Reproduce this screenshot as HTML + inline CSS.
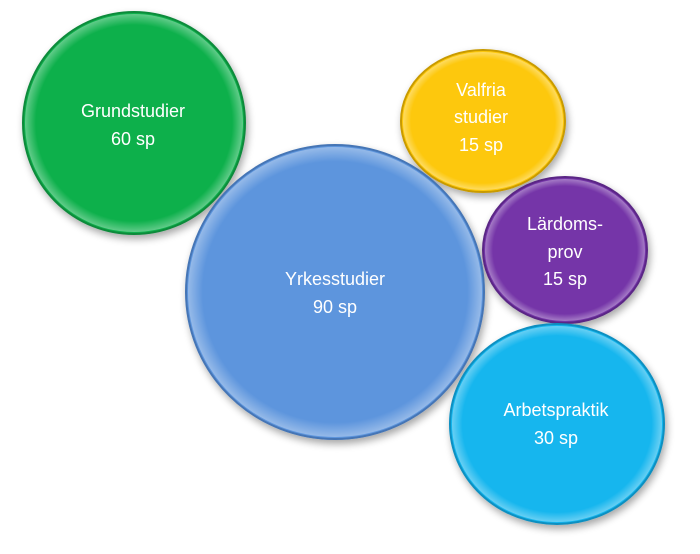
<!DOCTYPE html>
<html><head><meta charset="utf-8"><style>
html,body{margin:0;padding:0;background:#fff;width:700px;height:554px;overflow:hidden}
text{font-family:"Liberation Sans",sans-serif;font-size:18px;fill:#fff;text-anchor:middle}
</style></head><body>
<svg width="700" height="554" viewBox="0 0 700 554" xmlns="http://www.w3.org/2000/svg">
<defs>
<filter id="sh" x="-20%" y="-20%" width="140%" height="140%"><feGaussianBlur in="SourceAlpha" stdDeviation="4"/><feOffset dx="2" dy="4"/><feComponentTransfer><feFuncA type="linear" slope="0.35"/></feComponentTransfer><feMerge><feMergeNode/><feMergeNode in="SourceGraphic"/></feMerge></filter>
<radialGradient id="rim" cx="50%" cy="50%" r="50%"><stop offset="90%" stop-color="#fff" stop-opacity="0"/><stop offset="100%" stop-color="#fff" stop-opacity="0.35"/></radialGradient>
</defs>
<g filter="url(#sh)">
<ellipse cx="134" cy="123" rx="111" ry="111" fill="#0db04c" stroke="#0a8a3a" stroke-width="2"/>
<ellipse cx="483" cy="121" rx="82" ry="71" fill="#fdc80a" stroke="#c89a00" stroke-width="2"/>
<ellipse cx="565" cy="250" rx="82" ry="73" fill="#7535a8" stroke="#5a2585" stroke-width="2"/>
<ellipse cx="557" cy="424" rx="107" ry="100" fill="#12b6ee" stroke="#0c8fc0" stroke-width="2"/>
<ellipse cx="335" cy="292" rx="149" ry="147" fill="#5d95dd" stroke="#4575b5" stroke-width="2"/>
</g>
<ellipse cx="134" cy="123" rx="109" ry="109" fill="url(#rim)"/>
<ellipse cx="483" cy="121" rx="80" ry="69" fill="url(#rim)"/>
<ellipse cx="565" cy="250" rx="80" ry="71" fill="url(#rim)"/>
<ellipse cx="557" cy="424" rx="105" ry="98" fill="url(#rim)"/>
<ellipse cx="335" cy="292" rx="147" ry="145" fill="url(#rim)"/>
<text x="133" y="117">Grundstudier</text><text x="133" y="145">60 sp</text>
<text x="481" y="96">Valfria</text><text x="481" y="123">studier</text><text x="481" y="151">15 sp</text>
<text x="565" y="230">Lärdoms-</text><text x="565" y="258">prov</text><text x="565" y="285">15 sp</text>
<text x="335" y="285">Yrkesstudier</text><text x="335" y="313">90 sp</text>
<text x="556" y="416">Arbetspraktik</text><text x="556" y="444">30 sp</text>
</svg>
</body></html>
